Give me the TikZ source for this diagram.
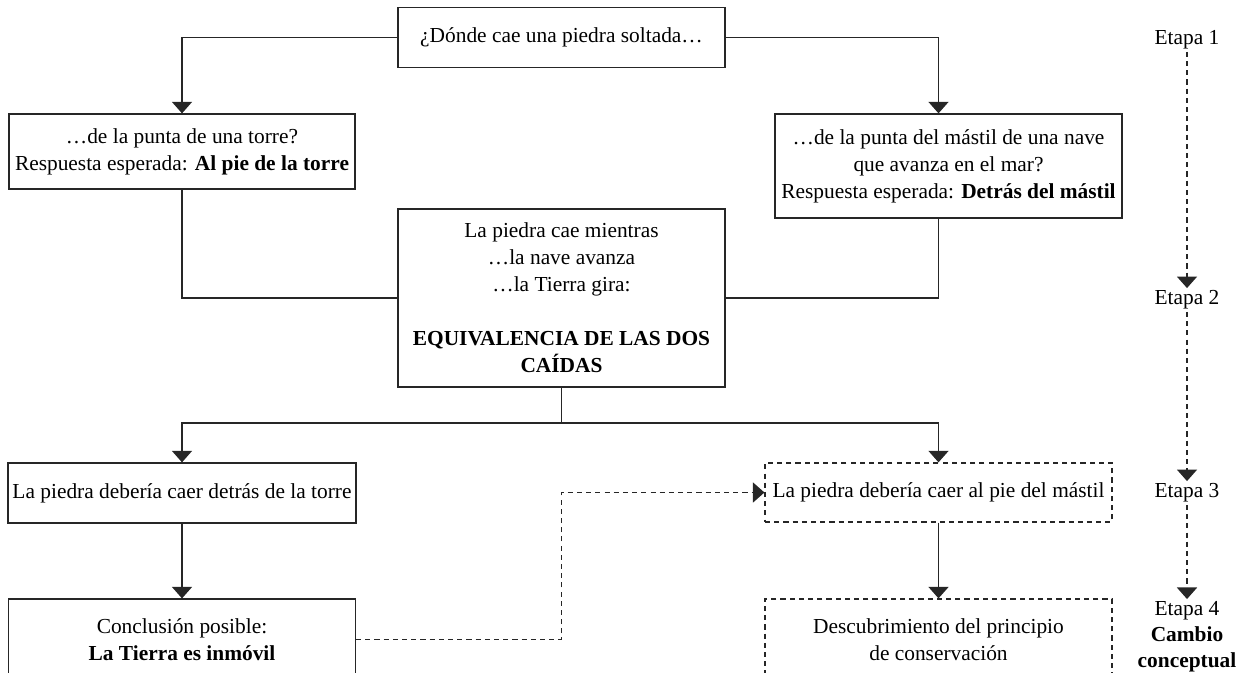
\documentclass[tikz,border=0pt]{standalone}
\usepackage{fontspec}
\setmainfont{Liberation Serif}
\usetikzlibrary{arrows.meta}

\tikzset{
    caja/.style={draw=black!85,
    line width=0.6pt,
    rectangle,
    align=center,
    inner sep=2pt,
    font=\fontsize{10}{12.6}\selectfont},
    cajapunt/.style={caja,
    dash pattern=on 2.4pt off 1.9pt},
    linea/.style={draw=black!85,
    line width=0.6pt},
    flecha/.style={linea,
    -{Triangle[width=9.4pt,length=5.4pt]}},
    flechapunt/.style={flecha,
    dash pattern=on 2.4pt off 1.9pt},
    etapa/.style={align=center,
    inner sep=1pt,
    font=\fontsize{10}{12.2}\selectfont}
}

\begin{document}
\begin{tikzpicture}[x=0.01643cm, y=-0.01643cm]
    \useasboundingbox (0,0) rectangle (1253,673);
    \clip (0,0) rectangle (1253,673);

    % question box
    \node[caja,
    minimum width = 5.37cm,
    minimum height = 0.986cm] (Pregunta) at (561.5,37.5) {¿Dónde cae una piedra soltada…};

    % stage 1 boxes
    \node[caja,
    minimum width = 5.685cm,
    minimum height = 1.232cm] (TorreQ) at (182,151.5) {…de la punta de una torre?\\ Respuesta esperada: \textbf{Al pie de la torre}};
    \node[caja,
    minimum width = 5.70cm,
    minimum height = 1.709cm] (NaveQ) at (948.5,166) {…de la punta del mástil de una nave\\ que avanza en el mar?\\ Respuesta esperada: \textbf{Detrás del mástil}};

    % stage 2 box
    \node[caja,
    minimum width = 5.37cm,
    minimum height = 2.925cm] (Equiv) at (561.5,298) {La piedra cae mientras\\ …la nave avanza\\ …la Tierra gira:\\[12.6pt] \textbf{EQUIVALENCIA DE LAS DOS}\\ \textbf{CAÍDAS}};

    % stage 3 boxes
    \node[caja,
    minimum width = 5.72cm,
    minimum height = 0.986cm] (TorreA) at (182,493) {La piedra debería caer detrás de la torre};
    \node[cajapunt,
    minimum width = 5.70cm,
    minimum height = 0.97cm] (NaveA) at (938.5,492.5) {La piedra debería caer al pie del mástil};

    % stage 4 boxes
    \node[caja,
    minimum width = 5.70cm,
    minimum height = 1.33cm] (TorreC) at (182,639.5) {Conclusión posible:\\ \textbf{La Tierra es inmóvil}};
    \node[cajapunt,
    minimum width = 5.70cm,
    minimum height = 1.33cm] (NaveC) at (938.5,639.5) {Descubrimiento del principio\\ de conservación};

    % stage labels
    \node[etapa] (Etapa1) at (1187,40) {Etapa 1};
    \node[etapa] (Etapa2) at (1187,300) {Etapa 2};
    \node[etapa] (Etapa3) at (1187,493) {Etapa 3};
    \node[etapa] (Etapa4) at (1187,637) {Etapa 4\\ \textbf{Cambio}\\ \textbf{conceptual}};

    % branching point below the equivalence box
    \coordinate (Reparto) at (Equiv.south |- 0,423);

    % drawing connectors
    \draw[flecha] (Pregunta.west) -| (TorreQ.north);
    \draw[flecha] (Pregunta.east) -| (NaveA.north |- NaveQ.north);
    \draw[linea] (TorreQ.south) |- (Equiv.west);
    \draw[linea] (NaveA.north |- NaveQ.south) |- (Equiv.east);
    \draw[linea] (Equiv.south) -- (Reparto);
    \draw[flecha] (Reparto) -| (TorreA.north);
    \draw[flecha] (Reparto) -| (NaveA.north);
    \draw[flecha] (TorreA.south) -- (TorreC.north);
    \draw[flecha] (NaveA.south) -- (NaveC.north);
    \draw[flechapunt] (TorreC.east) -| (Reparto |- NaveA.west) -- (NaveA.west);

    % stage arrows
    \draw[flechapunt] (Etapa1.south) -- (Etapa2.north);
    \draw[flechapunt] (Etapa2.south) -- (Etapa3.north);
    \draw[flechapunt] (Etapa3.south) -- (Etapa4.north);

\end{tikzpicture}
\end{document}
